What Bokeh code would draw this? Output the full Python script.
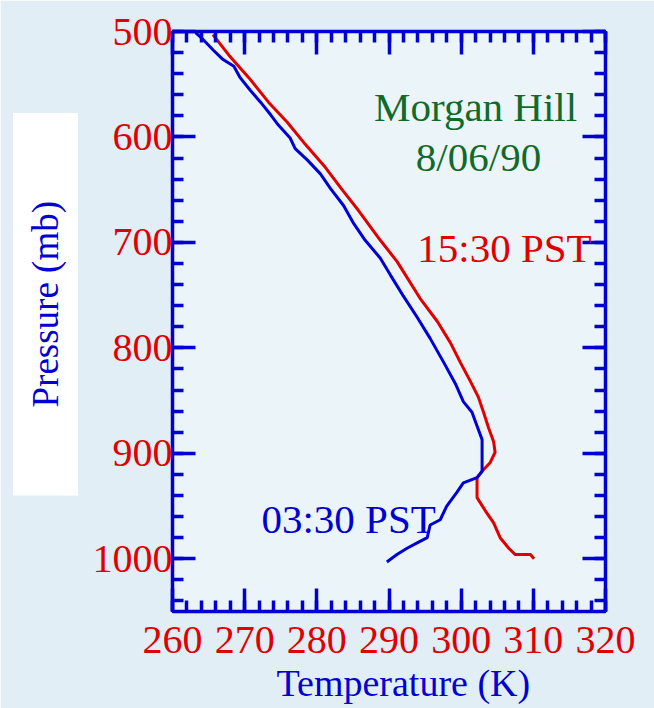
import math
from bokeh.plotting import figure
from bokeh.models import Range1d, SingleIntervalTicker, LinearAxis, Label, Title
from bokeh.embed import file_html
from bokeh.resources import INLINE

# ---- data ----
# 15:30 PST sounding
temp_1530 = [265.6, 268.0, 270.6, 273.3, 275.9, 278.4, 281.2, 283.5, 285.8, 288.8,
             291.1, 294.3, 296.7, 298.5, 299.9, 301.3, 302.4, 303.1, 303.8, 304.5,
             304.7, 304.0, 302.9, 302.2, 302.2, 303.4, 304.5, 305.4, 306.6, 307.5,
             309.6, 310.1]
pres_1530 = [503, 524, 544, 567, 586, 607, 629, 650, 670, 698,
             718, 753, 775, 795, 814, 832, 847, 861, 876, 889,
             899, 909, 917, 923, 942, 955, 966, 980, 990, 996,
             996, 1000]
# 03:30 PST sounding
temp_0330 = [263.2, 264.3, 265.7, 266.9, 268.5, 269.4, 270.8, 272.2, 273.6, 274.7,
             276.3, 277.0, 278.7, 280.5, 281.9, 283.7, 285.1, 286.7, 288.8, 290.2,
             292.0, 293.9, 295.7, 297.6, 299.2, 300.3, 301.5, 302.2, 302.9, 302.9,
             302.2, 300.3, 299.4, 298.0, 297.1, 295.7, 295.3, 293.9, 292.5, 291.1,
             289.7]
pres_0330 = [501, 508, 518, 526, 533, 544, 556, 567, 579, 589,
             601, 611, 622, 635, 649, 665, 682, 698, 715, 731,
             751, 771, 791, 814, 834, 851, 861, 874, 887, 917,
             923, 928, 937, 950, 963, 968, 980, 985, 990, 996,
             1003]

x_limits = [260, 320]
y_limits = [1050, 500]
x_tick_step = 10
y_tick_step = 100

BLUE = "#0000d2"
RED = "#e00000"
GREEN = "#106a28"
FONT = "Liberation Serif"

p = figure(width=654, height=708, output_backend="svg", toolbar_location=None,
           x_range=Range1d(*x_limits), y_range=Range1d(*y_limits),
           min_border_left=172, min_border_right=49, min_border_top=31,
           min_border_bottom=97)
p.grid.visible = False
p.border_fill_color = "#e2eef5"
p.background_fill_color = "#eaf4f9"
p.outline_line_color = BLUE
p.outline_line_width = 3


def style_axis(ax, show_labels):
    ax.axis_line_color = BLUE
    ax.axis_line_width = 3.5
    ax.major_tick_line_color = BLUE
    ax.major_tick_line_width = 3.5
    ax.minor_tick_line_color = BLUE
    ax.minor_tick_line_width = 3.5
    ax.major_tick_in = 23
    ax.major_tick_out = 0
    ax.minor_tick_in = 11
    ax.minor_tick_out = 0
    ax.major_label_text_font = FONT
    if show_labels:
        ax.major_label_text_color = RED
        ax.major_label_text_font_size = "40px"
    else:
        ax.major_label_text_color = None
        ax.major_label_text_font_size = "1px"
        ax.major_label_standoff = 0


xt = SingleIntervalTicker(interval=x_tick_step, num_minor_ticks=5)
yt = SingleIntervalTicker(interval=y_tick_step, num_minor_ticks=5)

p.xaxis.ticker = xt
p.yaxis.ticker = yt
style_axis(p.xaxis[0], True)
style_axis(p.yaxis[0], True)
p.xaxis.major_label_standoff = 15
p.yaxis.major_label_standoff = 0

top_ax = LinearAxis(ticker=SingleIntervalTicker(interval=x_tick_step, num_minor_ticks=5))
right_ax = LinearAxis(ticker=SingleIntervalTicker(interval=y_tick_step, num_minor_ticks=5))
style_axis(top_ax, False)
style_axis(right_ax, False)
p.add_layout(top_ax, "above")
p.add_layout(right_ax, "right")

p.line(temp_1530, pres_1530, line_color=RED, line_width=3)
p.line(temp_0330, pres_0330, line_color=BLUE, line_width=3)

# axis titles (side titles so they can be offset / boxed)
ytitle = Title(text="Pressure (mb)", align="left", vertical_align="middle",
               offset=116, standoff=-131,
               text_font=FONT, text_font_size="37px", text_font_style="normal",
               text_color=BLUE, background_fill_color="white",
               padding=(88, 12))
p.add_layout(ytitle, "left")
xtitle = Title(text="Temperature (K)", align="left", offset=104, standoff=8,
               text_font=FONT, text_font_size="38px", text_font_style="normal",
               text_color=BLUE)
p.add_layout(xtitle, "below")

p.add_layout(Label(x=302.0, y=572, text="Morgan Hill", text_align="center",
                   text_baseline="alphabetic", text_font=FONT,
                   text_font_size="41px", text_color=GREEN))
p.add_layout(Label(x=302.4, y=619, text="8/06/90", text_align="center",
                   text_baseline="alphabetic", text_font=FONT,
                   text_font_size="41px", text_color=GREEN))
p.add_layout(Label(x=306.0, y=705, text="15:30 PST", text_align="center",
                   text_baseline="alphabetic", text_font=FONT,
                   text_font_size="41px", text_color=RED))
p.add_layout(Label(x=284.4, y=962, text="03:30 PST", text_align="center",
                   text_baseline="alphabetic", text_font=FONT,
                   text_font_size="41px", text_color=BLUE))

open("out.html", "w").write(file_html(p, INLINE))
